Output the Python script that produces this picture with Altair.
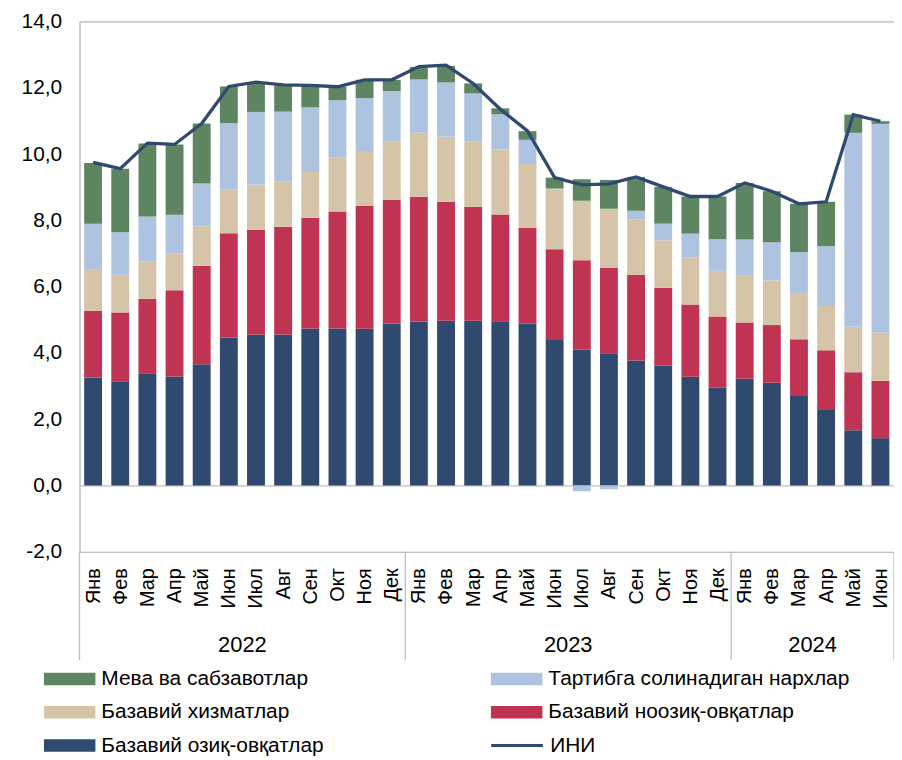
import altair as alt
import pandas as pd

# ---------------- data ----------------
months = ["Янв", "Фев", "Мар", "Апр", "Май", "Июн", "Июл", "Авг", "Сен", "Окт", "Ноя", "Дек"]
years = ["2022", "2023", "2024"]
months_per_year = [12, 12, 6]

food = [3.26, 3.15, 3.39, 3.29, 3.66, 4.47, 4.56, 4.56, 4.74, 4.74, 4.73, 4.89,
        4.95, 4.97, 4.97, 4.96, 4.88, 4.39, 4.10, 3.99, 3.77, 3.62, 3.28, 2.95,
        3.22, 3.10, 2.70, 2.28, 1.67, 1.43]
nonfood = [2.01, 2.07, 2.24, 2.60, 2.97, 3.14, 3.16, 3.25, 3.34, 3.53, 3.70, 3.73,
           3.76, 3.59, 3.44, 3.22, 2.90, 2.74, 2.70, 2.57, 2.58, 2.35, 2.18, 2.15,
           1.70, 1.74, 1.71, 1.80, 1.75, 1.73]
services = [1.26, 1.14, 1.13, 1.12, 1.19, 1.31, 1.36, 1.37, 1.38, 1.62, 1.66, 1.76,
            1.93, 1.97, 1.98, 1.96, 1.92, 1.80, 1.79, 1.79, 1.67, 1.43, 1.42, 1.38,
            1.41, 1.35, 1.40, 1.34, 1.37, 1.45]
regulated = [1.37, 1.28, 1.36, 1.16, 1.29, 2.01, 2.19, 2.10, 1.95, 1.73, 1.60, 1.52,
             1.61, 1.63, 1.44, 1.06, 0.73, 0.03, -0.17, -0.11, 0.27, 0.50, 0.72, 0.95,
             1.09, 1.15, 1.23, 1.80, 5.85, 6.30]
fruits = [1.83, 1.92, 2.20, 2.12, 1.81, 1.11, 0.86, 0.80, 0.66, 0.41, 0.55, 0.34,
          0.38, 0.50, 0.30, 0.18, 0.26, 0.33, 0.65, 0.87, 1.02, 1.11, 1.12, 1.29,
          1.71, 1.54, 1.46, 1.34, 0.55, 0.08]
cpi = [9.75, 9.56, 10.33, 10.29, 10.92, 12.04, 12.17, 12.09, 12.07, 12.03, 12.24, 12.24,
       12.64, 12.68, 12.13, 11.35, 10.70, 9.29, 9.07, 9.10, 9.31, 9.01, 8.72, 8.72,
       9.13, 8.88, 8.50, 8.56, 11.19, 10.99]

# legend is laid out column by column (3 rows x 2 columns)
legend_order = ["Мева ва сабзавотлар", "Базавий хизматлар", "Базавий озиқ-овқатлар",
                "Тартибга солинадиган нархлар", "Базавий ноозиқ-овқатлар"]
bar_colors = ["#5e8561", "#d6c4a8", "#2f4a6e", "#aec3df", "#bf3453"]
stack_order = ["Базавий озиқ-овқатлар", "Базавий ноозиқ-овқатлар", "Базавий хизматлар",
               "Тартибга солинадиган нархлар", "Мева ва сабзавотлар"]
series = {
    "Базавий озиқ-овқатлар": food,
    "Базавий ноозиқ-овқатлар": nonfood,
    "Базавий хизматлар": services,
    "Тартибга солинадиган нархлар": regulated,
    "Мева ва сабзавотлар": fruits,
}
line_name = "ИНИ"
line_color = "#2f4a6e"

# ---------------- tables ----------------
month_labels = []
for n in months_per_year:
    month_labels += months[:n]
N = len(month_labels)

rows = []
for k, name in enumerate(stack_order):
    for i, v in enumerate(series[name]):
        rows.append({"i": i, "cat": name, "val": v, "ord": k})
bars_df = pd.DataFrame(rows)
line_df = pd.DataFrame({"i": list(range(N)), "val": cpi, "cat": [line_name] * N})

starts = []
s = 0
for n in months_per_year:
    starts.append(s)
    s += n
year_df = pd.DataFrame({"i": [st + (n - 1) / 2 for st, n in zip(starts, months_per_year)],
                        "year": years})
sep_df = pd.DataFrame({"i": [st - 0.5 for st in starts] + [N - 0.5]})

FONT = "Liberation Sans"
GRID = "#bfbfbf"
W, H = 820, 534
LEG_X, LEG_Y, COL2_X = -36, 651, 413

xscale = alt.Scale(domain=[-0.5, N - 0.5], nice=False, zero=False, padding=0)
yscale = alt.Scale(domain=[-2, 14], nice=False, zero=False, padding=0)
label_arr = "[" + ",".join("'" + m + "'" for m in month_labels) + "]"

xaxis = alt.Axis(values=list(range(N)), labelExpr=label_arr + "[datum.value]",
                 labelAngle=-90, labelFontSize=20, labelFont=FONT, labelColor="#000000",
                 labelPadding=16, ticks=False, domain=False, grid=False,
                 labelFlush=False, labelOverlap=False, labelBound=False,
                 labelSeparation=0, title=None)
yaxis = alt.Axis(values=list(range(-2, 15, 2)),
                 labelExpr="(datum.value < 0 ? '-' : '') + replace(format(abs(datum.value), '.1f'), '.', ',')",
                 labelFontSize=21, labelFont=FONT, labelColor="#000000", labelPadding=18,
                 ticks=False, domain=True, domainColor=GRID, domainWidth=1.3,
                 grid=True, gridColor=GRID, gridWidth=1.3, title=None,
                 gridOpacity={"condition": {"test": "datum.value === 14 || datum.value === 0 || datum.value === -2",
                                            "value": 1}, "value": 0})

X = alt.X("i:Q", scale=xscale, axis=xaxis, title=None)

common_legend = dict(title=None, orient="none", labelFontSize=21, labelFont=FONT,
                     labelColor="#000000", labelOffset=6, padding=0, labelLimit=500,
                     symbolOffset=0, clipHeight=22, symbolSize=2704)

bars = alt.Chart(bars_df).mark_bar(size=18).encode(
    x=X,
    y=alt.Y("val:Q", scale=yscale, stack="zero", axis=yaxis, title=None),
    fill=alt.Fill("cat:N", scale=alt.Scale(domain=legend_order, range=bar_colors),
                  legend=alt.Legend(legendX=LEG_X, legendY=LEG_Y, columns=2,
                                    columnPadding=168, rowPadding=11.5,
                                    symbolType="M-1,-0.24H1V0.24H-1Z", symbolStrokeWidth=0,
                                    **common_legend)),
    order=alt.Order("ord:Q", sort="ascending"),
)

line = alt.Chart(line_df).mark_line(strokeWidth=3.3).encode(
    x=X,
    y=alt.Y("val:Q", scale=yscale, axis=yaxis, title=None),
    stroke=alt.Stroke("cat:N", scale=alt.Scale(domain=[line_name], range=[line_color]),
                      legend=alt.Legend(legendX=COL2_X, legendY=LEG_Y + 67,
                                        symbolType="M-1,0H1", symbolStrokeWidth=3,
                                        **common_legend)),
)

seps = alt.Chart(sep_df).mark_rule(color=GRID, strokeWidth=1.3).encode(
    x=X,
    y=alt.value(H),
    y2=alt.value(H + 109),
)

year_text = alt.Chart(year_df).mark_text(fontSize=22, font=FONT, color="#000000", baseline="middle").encode(
    x=X,
    y=alt.value(H + 94),
    text="year:N",
)

chart = alt.layer(bars, line, seps, year_text).properties(
    width=W, height=H,
    autosize=alt.AutoSizeParams(type="none"),
    padding={"left": 72, "top": 11, "right": 0, "bottom": 207},
).configure_view(strokeWidth=0).configure(font=FONT).configure_axisX(labelOverlap=False)

chart.save("out.html", embed_options={"renderer": "svg", "actions": False})
